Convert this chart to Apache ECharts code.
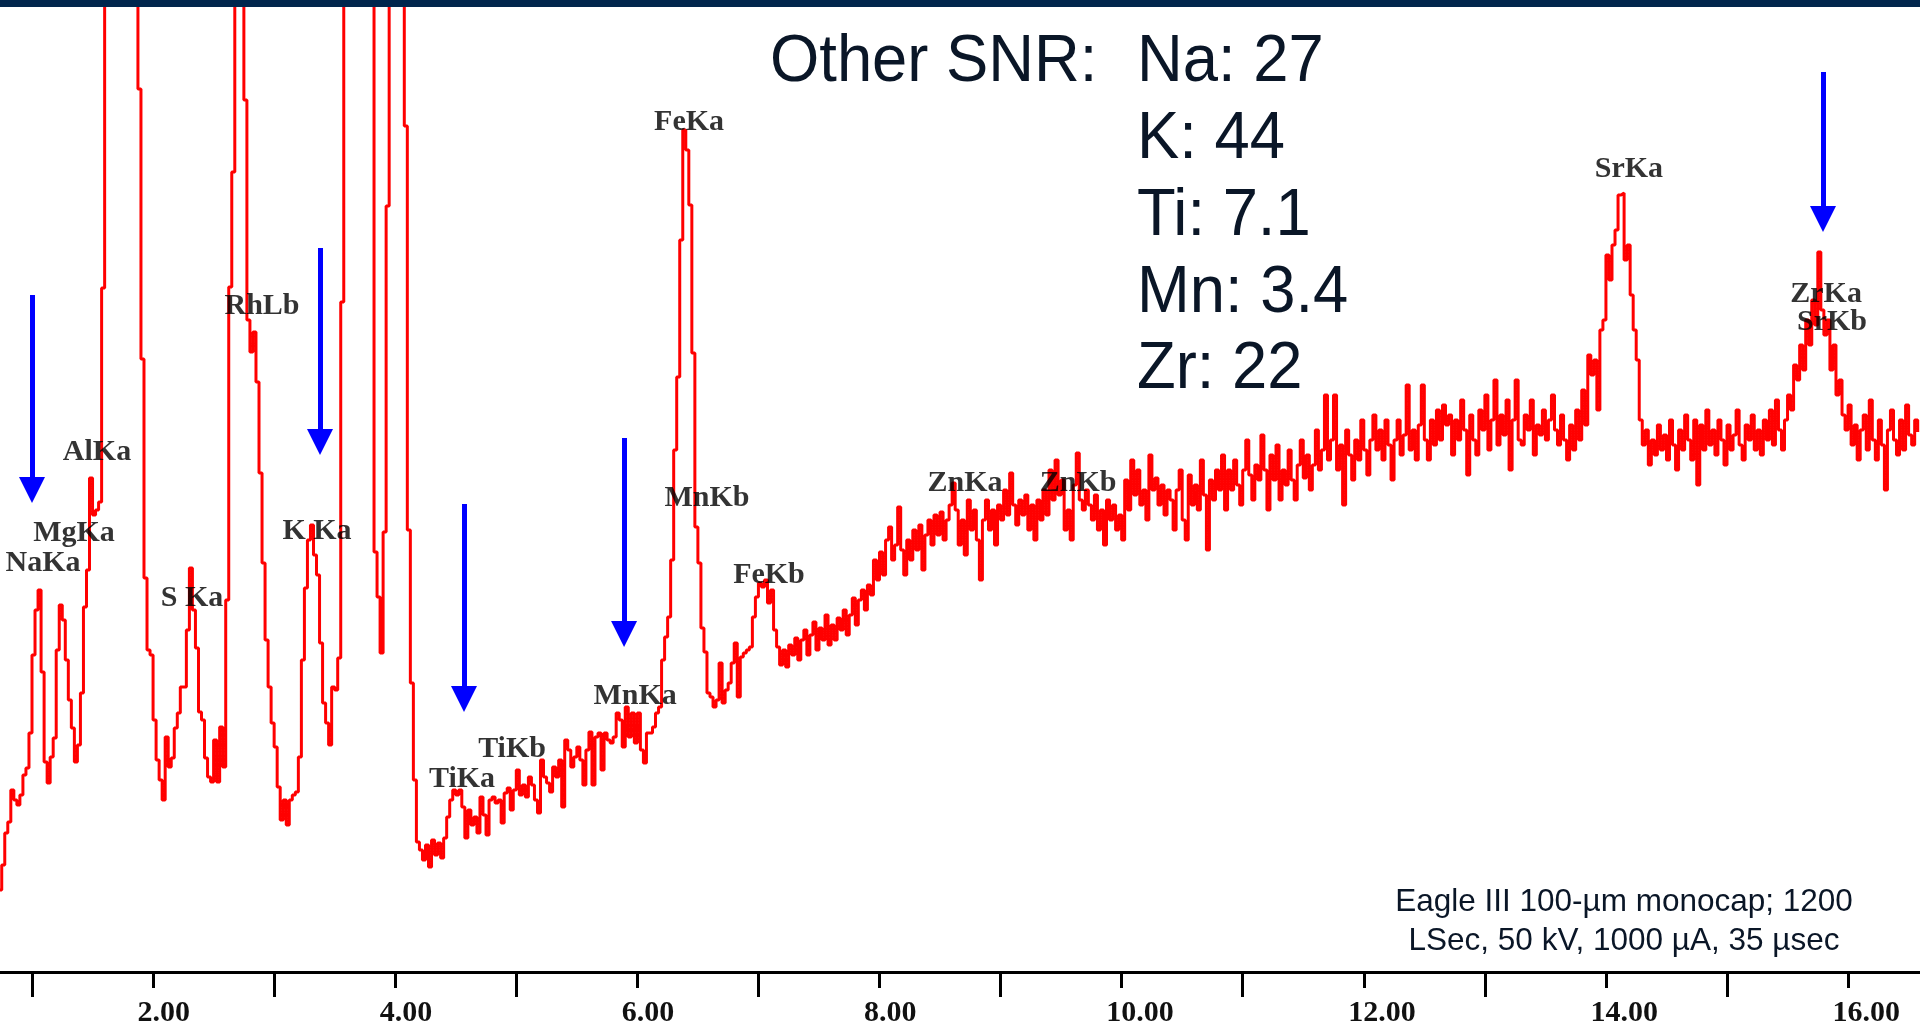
<!DOCTYPE html>
<html>
<head>
<meta charset="utf-8">
<title>XRF spectrum – Eagle III</title>
<script src="https://cdn.jsdelivr.net/npm/echarts@6/dist/echarts.min.js"></script>
<style>
  html, body { margin: 0; padding: 0; background: #ffffff; }
  #chart { width: 1920px; height: 1029px; }
</style>
</head>
<body>
<div id="chart"></div>
<script>
// Energy calibration: channel i starts at CHANNEL_START + i * CHANNEL_WIDTH (keV)
const CHANNEL_START = 0.725;
const CHANNEL_WIDTH = 0.025;

// Counts per channel, grouped by energy range
const countsNaToK = [
  82,107,139,150,182,172,167,177,197,204,
  239,317,362,382,300,210,189,215,234,322,
  367,352,312,272,244,210,227,279,365,402,
  494,457,462,470,684,1200,1800,2600,3400,4000,
  4200,3800,3000,2200,1600,1150,883,613,394,322,
  317,252,212,192,172,235,205,214,244,259,
  285,285,342,404,362,324,260,252,214,195,
  190,232,190,245,205,372,685,800,1300,1700,
  1100,872,652,620,640,590,499,409,332,285,
  249,225,185,152,172,147,172,177,180,215
];
const countsCaToTi = [
  312,384,432,447,417,397,329,269,249,227,
  285,282,314,670,1500,2500,4000,5000,5500,5000,
  4000,2800,1800,1200,420,375,319,440,766,1200,
  1500,1400,1150,1000,846,442,289,192,130,122,
  112,127,105,132,117,129,114,134,155,172,
  182,177,182,165,134,162,147,155,139,175,
  157,137,172,175,169,172,149,179,184,162,
  182,202,177,187,175,195,187,172,159,212,
  195,189,180,205,195,212,165,232,222,205,
  215,225,212,187,222,240,187,235,239,202
];
const countsMnToFe = [
  239,232,229,235,259,252,225,265,235,259,
  229,259,222,209,239,239,245,259,265,312,
  335,355,412,522,595,732,842,822,767,619,
  445,409,344,320,279,275,265,272,309,269,
  282,289,309,329,275,315,319,322,325,355,
  375,389,385,392,369,382,342,325,307,322,
  305,327,317,334,312,332,342,317,337,350,
  322,344,332,357,327,347,332,354,342,362,
  337,357,374,347,372,382,362,387,377,412,
  392,420,397,432,445,412,427,465,422,397
];
const countsZn = [
  432,412,442,422,447,402,437,452,427,457,
  437,460,432,452,467,489,462,427,452,417,
  472,442,462,432,392,452,472,442,462,427,
  467,452,482,457,499,467,447,472,457,477,
  442,467,432,472,452,482,457,502,472,512,
  477,492,442,462,432,487,519,472,462,482,
  467,452,477,442,462,427,472,452,467,442,
  457,432,492,462,512,477,502,467,482,452,
  517,482,494,467,487,457,482,472,442,482,
  502,452,432,497,467,487,462,512,477,422
];
const countsBackground = [
  492,472,502,482,517,462,502,482,512,
  487,467,502,532,497,472,507,492,537,502,
  462,517,492,527,472,502,487,522,492,472,
  507,532,494,517,482,507,542,502,522,577,
  512,532,577,502,527,467,542,517,492,532,
  512,552,522,497,532,557,522,542,512,
  552,527,492,532,552,517,537,587,522,542,
  512,547,587,532,512,552,527,562,532,567,
  547,557,517,552,532,572,542,497,557,532,
  517,562,542,577,522,552,592,527,557,537
];
const countsSrZr = [
  572,502,552,592,532,527,557,542,572,
  517,547,537,562,532,552,577,542,527,557,
  532,512,547,522,562,532,582,547,617,597,
  612,562,642,652,717,692,727,742,777,779,
  712,727,677,642,612,552,527,542,507,532,
  517,547,522,537,512,552,527,502,542,522,
  557,532,512,552,487,547,522,562,527,
  542,517,552,532,507,547,522,537,562,527,
  512,547,532,557,522,542,517,552,532,562,
  527,572,542,522,552,577,562,607,592,627,
  602,652,627,672,647,720,662,637,652,602,
  627,577,592,557,542,567,527,547,512,542,
  557,522,572,532,512,552,527,482,542,562,
  532,517,552,522,567,537,527,552,540
];

// Energy axis (keV)
const axisMinKeV = 0.7357;
const axisMaxKeV = 16.594;
const oddTicks = [1, 3, 5, 7, 9, 11, 13, 15];
const evenTicks = [2, 4, 6, 8, 10, 12, 14, 16];

// Line identifications
const peakNames  = ['NaKa', 'MgKa', 'AlKa', 'S Ka', 'RhLb', 'K Ka', 'TiKa', 'TiKb', 'MnKa',
                    'MnKb', 'FeKa', 'FeKb', 'ZnKa', 'ZnKb', 'SrKa', 'ZrKa', 'SrKb'];
const peakLabelE = [1.091, 1.347, 1.537, 2.322, 2.900, 3.354, 4.552, 4.965, 5.981,
                    6.575, 6.427, 7.087, 8.706, 9.640, 14.190, 15.818, 15.867];
const peakLabelY = [409, 439, 520, 374, 666, 441, 193, 223, 276,
                    474, 850, 397, 489, 489, 803, 678, 650];

// Markers for the trace elements (keV, counts at the tail, counts at the head)
const arrowElements = ['Na', 'K', 'Ti', 'Mn', 'Zr'];
const arrowEnergy   = [1.000, 3.379, 4.568, 5.890, 15.793];
const arrowTop      = [677, 724, 468, 534, 900];
const arrowTip      = [482, 530, 273, 338, 753];

// Signal-to-noise ratios
const snrLines = ['Na: 27', 'K: 44', 'Ti: 7.1', 'Mn: 3.4', 'Zr: 22'];
const captionLines = ['Eagle III 100-\u00b5m monocap; 1200', 'LSec, 50 kV, 1000 \u00b5A, 35 \u00b5sec'];

const counts = [].concat(countsNaToK, countsCaToTi, countsMnToFe, countsZn, countsBackground, countsSrZr);
const spectrum = counts.map((c, i) => [+(CHANNEL_START + i * CHANNEL_WIDTH).toFixed(3), c]);

const TEXT_DARK = '#0a1627';
const SERIF = '"Liberation Serif", "Times New Roman", serif';
const SANS = '"Liberation Sans", Arial, sans-serif';

const chart = echarts.init(document.getElementById('chart'), null, { renderer: 'canvas' });

const snrGraphics = snrLines.map((t, i) => ({
  type: 'text',
  x: 1137,
  y: 63 + i * 76.8,
  scaleX: 0.96,
  z: 50,
  style: { text: t, font: '66px ' + SANS, fill: TEXT_DARK, align: 'left', verticalAlign: 'middle' }
}));

const captionGraphics = captionLines.map((t, i) => ({
  type: 'text',
  x: 1624,
  y: 902 + i * 39,
  z: 50,
  style: { text: t, font: '31.5px ' + SANS, fill: TEXT_DARK, align: 'center', verticalAlign: 'middle' }
}));

chart.setOption({
  animation: false,
  backgroundColor: '#ffffff',
  grid: { left: 0, right: 0, top: 7, bottom: 57, containLabel: false, outerBoundsMode: 'none' },
  xAxis: [
    {
      type: 'value', min: axisMinKeV, max: axisMaxKeV, position: 'bottom',
      axisLine: { show: true, onZero: false, lineStyle: { color: '#000', width: 3 } },
      axisTick: { show: true, customValues: oddTicks, length: 25, lineStyle: { color: '#000', width: 3 } },
      axisLabel: { show: false },
      splitLine: { show: false }
    },
    {
      type: 'value', min: axisMinKeV, max: axisMaxKeV, position: 'bottom',
      axisLine: { show: false, onZero: false },
      axisTick: { show: true, customValues: evenTicks, length: 16, lineStyle: { color: '#000', width: 3 } },
      axisLabel: { show: false },
      splitLine: { show: false }
    },
    {
      // label track, offset so each value sits just left of its tick
      type: 'value', min: axisMinKeV + 0.128, max: axisMaxKeV + 0.128, position: 'bottom',
      axisLine: { show: false, onZero: false },
      axisTick: { show: false },
      splitLine: { show: false },
      axisLabel: {
        show: true, customValues: evenTicks,
        formatter: v => v.toFixed(2),
        align: 'left', verticalAlign: 'middle', margin: 41,
        fontFamily: SERIF, fontWeight: 'bold', fontSize: 30, color: '#111'
      }
    }
  ],
  yAxis: { type: 'value', min: 0, max: 965, show: false, splitLine: { show: false } },
  series: [
    {
      name: 'Spectrum',
      type: 'line',
      xAxisIndex: 0,
      data: spectrum,
      step: 'end',
      symbol: 'none',
      showSymbol: false,
      clip: true,
      lineStyle: { color: '#ff0000', width: 3 },
      z: 2,
      silent: true
    },
    {
      name: 'Lines',
      type: 'scatter',
      xAxisIndex: 0,
      data: peakNames.map((n, i) => ({ name: n, value: [peakLabelE[i], peakLabelY[i]] })),
      symbolSize: 1,
      itemStyle: { color: 'rgba(0,0,0,0)' },
      label: {
        show: true, position: 'inside', formatter: p => p.name,
        fontFamily: SERIF, fontWeight: 'bold', fontSize: 30, color: '#000'
      },
      z: 4,
      silent: true,
      markLine: {
        silent: true,
        animation: false,
        symbol: ['none', 'triangle'],
        symbolSize: 26,
        label: { show: false },
        lineStyle: { color: '#0000ff', width: 5, type: 'solid', opacity: 1 },
        data: arrowElements.map((el, i) => [
          { name: el, coord: [arrowEnergy[i], arrowTop[i]] },
          { coord: [arrowEnergy[i], arrowTip[i]] }
        ])
      }
    }
  ],
  graphic: [
    { type: 'rect', z: 100, shape: { x: 0, y: 0, width: 1920, height: 7 }, style: { fill: '#02264d' } },
    {
      type: 'text', x: 770, y: 63, scaleX: 0.96, z: 50,
      style: { text: 'Other SNR:', font: '66px ' + SANS, fill: TEXT_DARK, align: 'left', verticalAlign: 'middle' }
    }
  ].concat(snrGraphics, captionGraphics)
});
</script>
</body>
</html>
